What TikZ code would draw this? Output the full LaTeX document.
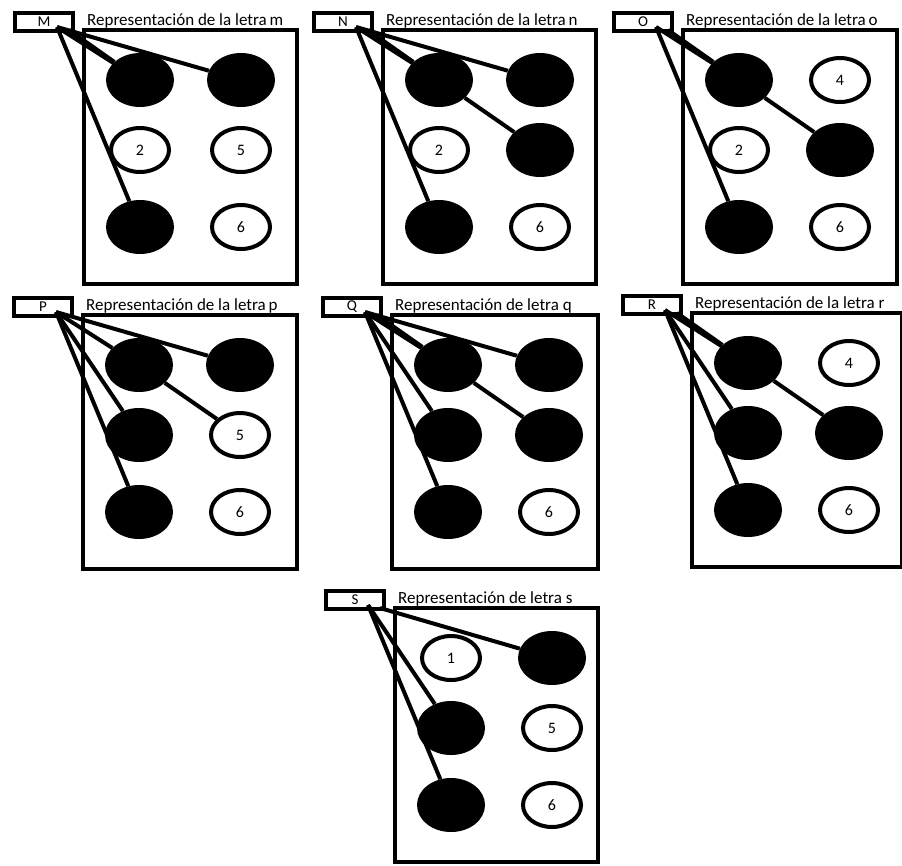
\documentclass[tikz,border=0pt]{standalone}
\usepackage{fontspec}
\setmainfont{Carlito}
\usetikzlibrary{shapes.geometric}

% one braille cell: #1 name, #2 left, #3 top, #4 width, #5 letter, #6 title
\newcommand{\celda}[6]{%
  \draw[cellbox] (#2,-#3) rectangle (#2+#4,-#3-254);
  \node[lblbox] (#1lab) at (#2-40,-#3+8) {#5};
  \node[titulo] (#1tit) at (#2+3,-#3+5) {#6};
  \coordinate (#1o) at (#2-27,-#3+3);
  \coordinate (#1p) at (#2-15,-#3);
  \foreach \k/\cx/\cy in {1/56/50,2/56/120,3/56/197,4/157/50,5/157/120,6/157/197}
    \coordinate (#1c\k) at (#2+\cx,-#3-\cy);
}

\begin{document}
\begin{tikzpicture}[x=1pt,y=1pt,
    cellbox/.style={line width=4pt},
    lblbox/.style={draw,line width=3.5pt,minimum width=58pt,minimum height=18pt,inner sep=0pt,
                   font=\fontsize{15}{15}\selectfont},
    titulo/.style={anchor=base west,inner sep=0pt,font=\fontsize{17}{17}\selectfont},
    doton/.style={ellipse,fill=black,minimum width=68pt,minimum height=54pt,inner sep=0pt},
    dotoff/.style={ellipse,draw,fill=white,line width=4pt,minimum width=58pt,minimum height=44pt,
                   inner sep=0pt,font=\fontsize{16}{16}\selectfont},
    link/.style={line width=4pt}]
  \useasboundingbox (0,0) rectangle (902,-865);

  % letter m
  \celda{M}{84}{30}{213}{M}{Representación de la letra\,m}
  \foreach \k in {1,3,4} \node[doton] (M\k) at (Mc\k) {};
  \foreach \k in {2,5,6} \node[dotoff] (M\k) at (Mc\k) {\k};
  \draw[link] (Mo) -- (M1);
  \draw[link] (Mp) -- (M1);
  \draw[link] (Mo) -- (M4);
  \draw[link] (Mo) -- (M3);

  % letter n
  \celda{N}{383}{30}{213}{N}{Representación de la letra\,n}
  \foreach \k in {1,3,4,5} \node[doton] (N\k) at (Nc\k) {};
  \foreach \k in {2,6} \node[dotoff] (N\k) at (Nc\k) {\k};
  \draw[link] (No) -- (N1);
  \draw[link] (Np) -- (N1);
  \draw[link] (No) -- (N4);
  \draw[link] (No) -- (N3);
  \draw[link] (N1) -- (N5);

  % letter o
  \celda{O}{683}{30}{214}{O}{Representación de la letra\,o}
  \foreach \k in {1,3,5} \node[doton] (O\k) at (Oc\k) {};
  \foreach \k in {2,4,6} \node[dotoff] (O\k) at (Oc\k) {\k};
  \draw[link] (Oo) -- (O1);
  \draw[link] (Op) -- (O1);
  \draw[link] (Oo) -- (O3);
  \draw[link] (O1) -- (O5);

  % letter p
  \celda{P}{83}{315}{214}{P}{Representación de la letra\,p}
  \foreach \k in {1,2,3,4} \node[doton] (P\k) at (Pc\k) {};
  \foreach \k in {5,6} \node[dotoff] (P\k) at (Pc\k) {\k};
  \draw[link] (Po) -- (P1);
  \draw[link] (Po) -- (P4);
  \draw[link] (Po) -- (P2);
  \draw[link] (Po) -- (P3);
  \draw[link] (P1) -- (P5);

  % letter q
  \celda{Q}{392}{315}{206}{Q}{Representación de letra q}
  \foreach \k in {1,2,3,4,5} \node[doton] (Q\k) at (Qc\k) {};
  \node[dotoff] (Q6) at (Qc6) {6};
  \draw[link] (Qo) -- (Q1);
  \draw[link] (Qp) -- (Q1);
  \draw[link] (Qo) -- (Q4);
  \draw[link] (Qo) -- (Q2);
  \draw[link] (Qo) -- (Q3);
  \draw[link] (Q1) -- (Q5);

  % letter r
  \celda{R}{692}{313}{210}{R}{Representación de la letra r}
  \foreach \k in {1,2,3,5} \node[doton] (R\k) at (Rc\k) {};
  \foreach \k in {4,6} \node[dotoff] (R\k) at (Rc\k) {\k};
  \draw[link] (Ro) -- (R1);
  \draw[link] (Rp) -- (R1);
  \draw[link] (Ro) -- (R2);
  \draw[link] (Ro) -- (R3);
  \draw[link] (R1) -- (R5);

  % letter s
  \celda{S}{395}{608}{203}{S}{Representación de letra s}
  \foreach \k in {2,3,4} \node[doton] (S\k) at (Sc\k) {};
  \foreach \k in {1,5,6} \node[dotoff] (S\k) at (Sc\k) {\k};
  \draw[link] (Sp) -- (S4);
  \draw[link] (So) -- (S2);
  \draw[link] (So) -- (S3);
\end{tikzpicture}
\end{document}
